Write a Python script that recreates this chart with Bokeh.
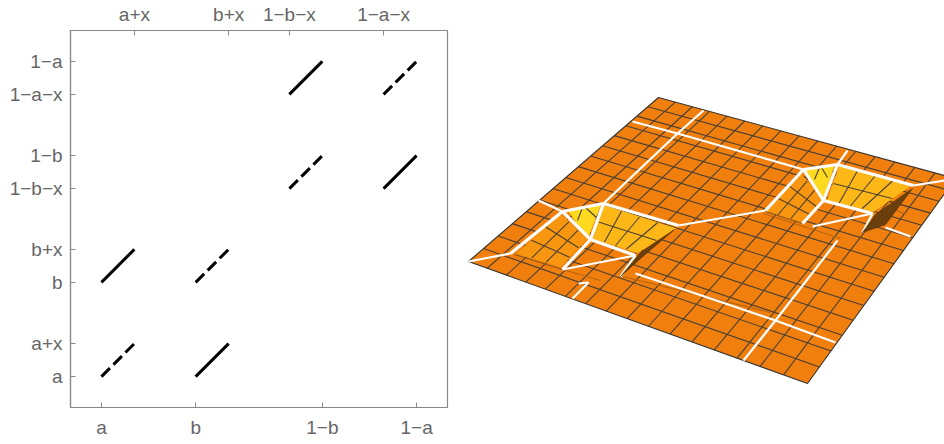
from bokeh.plotting import figure
from bokeh.layouts import row
from bokeh.models import FixedTicker, LinearAxis, Range1d
from bokeh.embed import file_html
from bokeh.resources import INLINE

# ---------- left chart ----------
a = 0.082
b = 0.332
x = 0.0875
x_ticks_bottom = [a, b, 1 - b, 1 - a]
x_labels_bottom = ["a", "b", "1\u2212b", "1\u2212a"]
x_ticks_top = [a + x, b + x, 1 - b - x, 1 - a - x]
x_labels_top = ["a+x", "b+x", "1\u2212b\u2212x", "1\u2212a\u2212x"]
y_ticks = [a, a + x, b, b + x, 1 - b - x, 1 - b, 1 - a - x, 1 - a]
y_labels = ["a", "a+x", "b", "b+x", "1\u2212b\u2212x", "1\u2212b", "1\u2212a\u2212x", "1\u2212a"]
solid_starts = [(b, a), (a, b), (1 - b - x, 1 - a - x), (1 - a - x, 1 - b - x)]
dashed_starts = [(a, a), (b, b), (1 - b - x, 1 - b - x), (1 - a - x, 1 - a - x)]

# ---------- right chart: plate ----------
plate_x = [468, 807, 955, 658]
plate_y = [261, 383, 178, 97]
mesh_steps_u = [i / 16 for i in range(1, 16)]
mesh_steps_v = [i / 15 for i in range(1, 15)]
white_major = [
    ([510, 562], [253, 211]), ([562, 590], [211, 239]), ([562, 603], [211, 203]),
    ([603, 590], [203, 239]), ([603, 678], [203, 225]), ([590, 635], [239, 255]),
    ([590, 562], [239, 269]), ([765, 803], [210, 169]), ([803, 823], [169, 200]),
    ([803, 837], [169, 164]), ([837, 823], [164, 200]), ([837, 913], [164, 185]),
    ([823, 872], [200, 213]), ([823, 802], [200, 223]),
]
white_minor = [
    ([468, 510], [261, 253]), ([538, 562], [200, 211]), ([603, 677, 703], [203, 133, 110]),
    ([632, 677, 803], [121, 133, 169]), ([678, 765], [225, 210]), ([837, 847], [164, 150]),
    ([913, 944], [185, 180]), ([562, 635], [269, 255]),
    ([812, 872], [226, 213]), ([635, 620], [255, 276]),
    ([872, 862], [213, 232]), ([635, 710, 775, 835], [273, 298, 320, 342]),
    ([885, 910], [227, 236]), ([588, 572], [282, 298]), ([578, 588], [283, 282]),
    ([837, 775, 743], [240, 320, 360]),
]
faint_x = [[562, 600], [763, 840], [622, 770], [884, 905]]
faint_y = [[269, 280], [213, 238], [276, 312], [204, 214]]
fold_x = [[514, 562], [765, 802]]
fold_y = [[254, 269], [211, 223]]
# face corners: (xs, ys, colour, lines along first side, lines along second side)
faces = [
    ([517, 559, 587, 560], [253, 213, 238, 266], "#F9960F", 2, 2),
    ([568, 600, 588, 576], [210, 204, 235, 222], "#FDD920", 0, 0),
    ([603, 675, 637, 593], [205, 228, 252, 238], "#FDB818", 3, 1),
    ([765, 799, 822, 803], [210, 172, 198, 222], "#F9960F", 2, 2),
    ([803, 833, 823, 813], [170, 166, 197, 184], "#FDD920", 0, 0),
    ([839, 910, 873, 827], [166, 185, 211, 200], "#FDB818", 3, 1),
]
yellow_lines_x = [[582, 577], [585, 597], [819, 814], [821, 827]]
yellow_lines_y = [[207, 220], [207, 218], [167, 179], [167, 177]]
slivers = [
    ([674, 640, 620, 640], [229, 252, 276, 258]),
    ([912, 875, 862, 885], [188, 214, 232, 224]),
]
orange = "#F17F0D"
mesh_col = "#4A4036"
ink = "#888888"
label = "#666666"
font = "Liberation Sans"


def homography(xs, ys):
    x0, x1, x2, x3 = xs
    y0, y1, y2, y3 = ys
    dx1, dx2, sx = x1 - x2, x3 - x2, x0 - x1 + x2 - x3
    dy1, dy2, sy = y1 - y2, y3 - y2, y0 - y1 + y2 - y3
    det = dx1 * dy2 - dx2 * dy1
    g = (sx * dy2 - dx2 * sy) / det
    h = (dx1 * sy - sx * dy1) / det
    def f(u, v):
        w = g * u + h * v + 1
        return ((x1 - x0 + g * x1) * u + (x3 - x0 + h * x3) * v + x0) / w, \
               ((y1 - y0 + g * y1) * u + (y3 - y0 + h * y3) * v + y0) / w
    return f


def bilinear(xs, ys):
    def f(u, v):
        w = [(1 - u) * (1 - v), u * (1 - v), u * v, (1 - u) * v]
        return sum(k * c for k, c in zip(w, xs)), sum(k * c for k, c in zip(w, ys))
    return f


def local_mesh(xs, ys, nu, nv):
    f = bilinear(xs, ys)
    lx, ly = [], []
    for i in range(1, nu + 1):
        t = i / (nu + 1)
        p, q = f(t, 0), f(t, 1)
        lx.append([p[0], q[0]]); ly.append([p[1], q[1]])
    for i in range(1, nv + 1):
        t = i / (nv + 1)
        p, q = f(0, t), f(1, t)
        lx.append([p[0], q[0]]); ly.append([p[1], q[1]])
    return lx, ly


# ---------- left figure ----------
left = figure(width=460, height=444, output_backend="svg", toolbar_location=None,
              x_range=Range1d(0, 1), y_range=Range1d(0, 1),
              min_border_left=70, min_border_right=13, min_border_top=30, min_border_bottom=37,
              x_axis_location=None, y_axis_location=None)
left.grid.visible = False
left.outline_line_color = ink
left.outline_line_width = 1.2


def make_axis(side, ticks, labels, standoff, baseline=None):
    ax = LinearAxis(ticker=FixedTicker(ticks=ticks),
                    major_label_overrides=dict(zip(ticks, labels)),
                    major_label_text_font=font, major_label_text_font_size="19px",
                    major_label_text_color=label, major_label_standoff=standoff,
                    axis_line_color=ink, axis_line_width=1.2,
                    major_tick_line_color=ink, major_tick_in=5, major_tick_out=0,
                    minor_tick_line_color=None)
    if baseline:
        ax.major_label_text_baseline = baseline
    left.add_layout(ax, side)


make_axis("below", x_ticks_bottom, x_labels_bottom, 9)
make_axis("above", x_ticks_top, x_labels_top, 6, "bottom")
make_axis("left", y_ticks, y_labels, 8)

left.multi_line([[s[0], s[0] + x] for s in solid_starts], [[s[1], s[1] + x] for s in solid_starts],
                line_color="black", line_width=3)
left.multi_line([[s[0], s[0] + x] for s in dashed_starts], [[s[1], s[1] + x] for s in dashed_starts],
                line_color="black", line_width=3, line_dash="12 5")

# ---------- right figure ----------
right = figure(width=484, height=444, output_backend="svg", toolbar_location=None,
               x_range=Range1d(460, 944), y_range=Range1d(407, 30),
               min_border_left=0, min_border_right=0, min_border_top=30, min_border_bottom=37,
               x_axis_location=None, y_axis_location=None)
right.grid.visible = False
right.outline_line_color = None

right.patch(plate_x, plate_y, fill_color=orange, line_color=None)
F = homography(plate_x, plate_y)
mx, my = [], []
for t in mesh_steps_u:
    p, q = F(t, 0), F(t, 1)
    mx.append([p[0], q[0]]); my.append([p[1], q[1]])
for t in mesh_steps_v:
    p, q = F(0, t), F(1, t)
    mx.append([p[0], q[0]]); my.append([p[1], q[1]])
right.multi_line(mx, my, line_color=mesh_col, line_width=1.1)
right.patch(plate_x + plate_x[:1], plate_y + plate_y[:1], fill_color=None, line_color="#333333", line_width=1.1)
right.multi_line(faint_x, faint_y, line_color="#B9650F", line_width=1.2)

right.multi_line([w[0] for w in white_minor], [w[1] for w in white_minor], line_color="white", line_width=2.2)

for fx, fy, col, nu, nv in faces:
    right.patch(fx, fy, fill_color=col, line_color=col, line_width=1)
    if nu or nv:
        lx, ly = local_mesh(fx, fy, nu, nv)
        right.multi_line(lx, ly, line_color=mesh_col, line_width=1.1)
right.multi_line(yellow_lines_x, yellow_lines_y, line_color=mesh_col, line_width=1.1)
right.multi_line(fold_x, fold_y, line_color="#8A5A1E", line_width=1.2)

for sx, sy in slivers:
    right.patch(sx, sy, fill_color="#6B3F0C", line_color="#4A2C08", line_width=0.6)

right.multi_line([w[0] for w in white_major], [w[1] for w in white_major], line_color="white", line_width=3.2)

page = row(left, right)
open("out.html", "w").write(file_html(page, INLINE))
